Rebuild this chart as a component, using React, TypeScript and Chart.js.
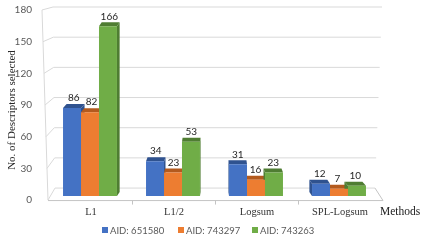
import React, { useEffect, useRef } from "react";
import { Chart, registerables } from "chart.js";
Chart.register(...registerables);

const categories = ["L1", "L1/2", "Logsum", "SPL-Logsum"];
const aid651580 = [86, 34, 31, 12];
const aid743297 = [82, 23, 16, 7];
const aid743263 = [166, 53, 23, 10];
const seriesNames = ["AID: 651580", "AID: 743297", "AID: 743263"];
const yTicks = [0, 30, 60, 90, 120, 150, 180];
const yTitle = "No. of Descriptors selected";
const xTitle = "Methods";

const frontColors = ["#4472C4", "#ED7D31", "#70AD47"];
const darkColors = ["#2F528F", "#B35A1E", "#4F7D32"];

const VP = 215;
const DEPTH = 4;
const SANS = "Lato, 'Liberation Sans', sans-serif";
const SERIF = "'Liberation Serif', 'DejaVu Serif', serif";

const lerp = (a: number, b: number, t: number) => a + (b - a) * t;

const decor = {
  id: "decor",
  beforeDatasetsDraw(chart: any) {
    const ctx = chart.ctx;
    const ys = chart.scales.y;
    const xs = chart.scales.x;
    const backY = (v: number) => -4.8 + 0.984 * ys.getPixelForValue(v);
    const frontY = (v: number) => -2.4 + 1.033 * ys.getPixelForValue(v);
    const backL = (v: number) => lerp(55, 53, v / 180);
    const backR = (v: number) => lerp(375, 382, v / 180);
    const frontL = (v: number) => lerp(48, 42, v / 180);
    ctx.save();
    ctx.lineWidth = 1;
    ctx.strokeStyle = "#D9D9D9";
    for (const v of yTicks) {
      ctx.beginPath();
      ctx.moveTo(frontL(v), frontY(v));
      ctx.lineTo(backL(v), backY(v));
      ctx.lineTo(backR(v), backY(v));
      ctx.stroke();
    }
    ctx.beginPath();
    ctx.moveTo(frontL(180), frontY(180));
    ctx.lineTo(frontL(0), frontY(0));
    ctx.stroke();
    // floor
    ctx.strokeStyle = "#C4C4C4";
    ctx.beginPath();
    ctx.moveTo(frontL(0), frontY(0) + 0.5);
    ctx.lineTo(383, frontY(0) + 0.5);
    ctx.lineTo(backR(0), backY(0));
    ctx.stroke();
    // category separators
    const fy = frontY(0) + 0.5;
    for (let i = 0; i < categories.length - 1; i++) {
      const bx = Math.round((xs.getPixelForValue(i) + xs.getPixelForValue(i + 1)) / 2) + 0.5;
      ctx.beginPath();
      ctx.moveTo(bx, fy);
      ctx.lineTo(bx, fy + 4);
      ctx.stroke();
    }
    // bar extrusions
    chart.data.datasets.forEach((ds: any, di: number) => {
      const meta = chart.getDatasetMeta(di);
      meta.data.forEach((bar: any) => {
        const L = bar.x - bar.width / 2;
        const R = bar.x + bar.width / 2;
        const top = bar.y;
        const bottom = bar.base;
        const dx = (VP - bar.x) * 0.025;
        const dy = -DEPTH;
        ctx.fillStyle = darkColors[di];
        ctx.beginPath();
        ctx.moveTo(L, top);
        ctx.lineTo(R, top);
        ctx.lineTo(R + dx, top + dy);
        ctx.lineTo(L + dx, top + dy);
        ctx.closePath();
        ctx.fill();
        const sx = dx > 0 ? R : L;
        ctx.beginPath();
        ctx.moveTo(sx, top);
        ctx.lineTo(sx + dx, top + dy);
        ctx.lineTo(sx + dx, bottom + dy);
        ctx.lineTo(sx, bottom);
        ctx.closePath();
        ctx.fill();
      });
    });
    ctx.restore();
  },
  afterDatasetsDraw(chart: any) {
    const ctx = chart.ctx;
    const ys = chart.scales.y;
    const xs = chart.scales.x;
    const frontY = (v: number) => -2.4 + 1.033 * ys.getPixelForValue(v);
    ctx.save();
    // data labels
    ctx.font = `10px ${SANS}`;
    ctx.fillStyle = "#262626";
    ctx.textAlign = "center";
    ctx.textBaseline = "middle";
    chart.data.datasets.forEach((ds: any, di: number) => {
      const meta = chart.getDatasetMeta(di);
      meta.data.forEach((bar: any, i: number) => {
        const dx = (VP - bar.x) * 0.025;
        ctx.fillText(String(ds.data[i]), bar.x + dx / 2, bar.y - 10);
      });
    });
    // y ticks
    ctx.font = `10px ${SANS}`;
    ctx.fillStyle = "#595959";
    ctx.textAlign = "right";
    for (const v of yTicks) {
      ctx.fillText(String(v), 32, frontY(v));
    }
    // y title
    ctx.save();
    ctx.translate(12, 110);
    ctx.rotate(-Math.PI / 2);
    ctx.font = `11px ${SERIF}`;
    ctx.fillStyle = "#262626";
    ctx.textAlign = "center";
    ctx.fillText(yTitle, 0, 0);
    ctx.restore();
    // category labels
    ctx.font = `10.5px ${SERIF}`;
    ctx.fillStyle = "#333333";
    ctx.textAlign = "center";
    categories.forEach((c, i) => {
      const px = xs.getPixelForValue(i);
      ctx.fillText(c, px + 1, 212);
    });
    // x title
    ctx.font = `11.5px ${SERIF}`;
    ctx.fillStyle = "#1a1a1a";
    ctx.textAlign = "left";
    ctx.fillText(xTitle, 380, 212);
    // legend
    ctx.font = `9.5px ${SANS}`;
    const lx = [102, 178, 252];
    seriesNames.forEach((n, i) => {
      ctx.fillStyle = frontColors[i];
      ctx.fillRect(lx[i], 227, 6, 6);
      ctx.fillStyle = "#595959";
      ctx.textAlign = "left";
      ctx.fillText(n, lx[i] + 8, 230.5);
    });
    ctx.restore();
  },
};

export default function App() {
  const ref = useRef<HTMLCanvasElement | null>(null);
  useEffect(() => {
    if (!ref.current) return;
    const chart = new Chart(ref.current, {
      type: "bar",
      data: {
        labels: categories,
        datasets: [
          { label: seriesNames[0], data: aid651580, backgroundColor: frontColors[0], borderWidth: 0 },
          { label: seriesNames[1], data: aid743297, backgroundColor: frontColors[1], borderWidth: 0 },
          { label: seriesNames[2], data: aid743263, backgroundColor: frontColors[2], borderWidth: 0 },
        ],
      },
      options: {
        responsive: false,
        animation: false,
        devicePixelRatio: 1,
        layout: { padding: { left: 48.5, right: 55.5, top: 12, bottom: 45 } },
        categoryPercentage: 0.65,
        barPercentage: 1,
        scales: {
          x: { display: false, offset: true },
          y: { display: false, min: 0, max: 180 },
        },
        plugins: { legend: { display: false }, tooltip: { enabled: false } },
      } as any,
      plugins: [decor],
    });
    return () => chart.destroy();
  }, []);
  return (
    <div style={{ position: "absolute", left: 0, top: 0, width: 436, height: 241, background: "#fff" }}>
      <canvas ref={ref} width={436} height={241} />
    </div>
  );
}
